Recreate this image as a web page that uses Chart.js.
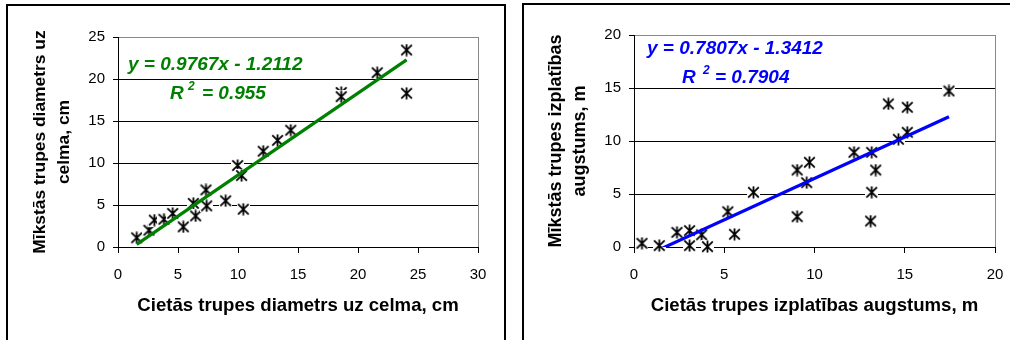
<!DOCTYPE html>
<html>
<head>
<meta charset="utf-8">
<script src="https://cdn.jsdelivr.net/npm/chart.js@4"></script>
<style>
  html, body { margin: 0; padding: 0; background: #fff; width: 1010px; height: 340px; overflow: hidden; position: relative; }
  .frame { position: absolute; box-sizing: border-box; border: 2px solid #000; background: #fff; }
  #f1 { left: 6px; top: 4px; width: 500px; height: 400px; }
  #f2 { left: 522px; top: 3px; width: 500px; height: 400px; }
  canvas { position: absolute; top: 0; }
  #c1 { left: 0; }
  #c2 { left: 515px; }
</style>
</head>
<body>
<div class="frame" id="f1"></div>
<div class="frame" id="f2"></div>
<canvas id="c1" width="510" height="340"></canvas>
<canvas id="c2" width="495" height="340"></canvas>
<script>
// Stump diameter: hard-rot trees (x) vs soft-rot trees (y), cm
const diamHard = [1.56, 2.58, 3.03, 3.83, 4.56, 5.44, 6.28, 6.47, 7.33, 7.39, 8.97, 9.97, 10.3, 10.44, 12.1, 13.3, 14.4, 18.6, 18.6, 21.6, 24.05, 24.05];
const diamSoft = [1.1, 2.0, 3.2, 3.3, 4.0, 2.4, 5.2, 3.7, 6.8, 4.9, 5.5, 9.7, 8.5, 4.5, 11.4, 12.7, 13.9, 18.4, 17.9, 20.75, 23.45, 18.3];
const diamFit = { slope: 0.9767, intercept: -1.2112, r2: '0.955' };
const diamXTicks = [0, 5, 10, 15, 20, 25, 30];
const diamYTicks = [0, 5, 10, 15, 20, 25];

// Rot spread height: hard-rot trees (x) vs soft-rot trees (y), m
const heightHard = [0.44, 1.4, 2.38, 3.08, 3.08, 3.75, 4.07, 5.2, 5.57, 6.62, 9.04, 9.04, 9.57, 9.72, 12.19, 13.17, 13.39, 13.17, 13.11, 14.09, 14.65, 15.14, 15.14, 17.45];
const heightSoft = [0.35, 0.13, 1.38, 1.55, 0.13, 1.15, 0.03, 3.33, 1.2, 5.16, 7.26, 2.86, 6.07, 7.99, 8.93, 8.93, 7.26, 5.16, 2.45, 13.5, 10.16, 13.18, 10.82, 14.72];
const heightFit = { slope: 0.7807, intercept: -1.3412, r2: '0.7904' };
const heightXTicks = [0, 5, 10, 15, 20];
const heightYTicks = [0, 5, 10, 15, 20];

const FONT = "'Liberation Sans', Arial, sans-serif";
Chart.defaults.font.family = FONT;
Chart.defaults.color = '#000';

// Asterisk marker on a white square
function starMarker() {
  const c = document.createElement('canvas');
  c.width = 13; c.height = 13;
  const g = c.getContext('2d');
  g.fillStyle = '#fff';
  g.fillRect(0, 0, 13, 13);
  g.strokeStyle = '#000';
  g.lineWidth = 1.8;
  g.beginPath();
  g.moveTo(1.2, 1.4); g.lineTo(11.8, 11.6);
  g.moveTo(11.8, 1.4); g.lineTo(1.2, 11.6);
  g.moveTo(6.5, 0.6); g.lineTo(6.5, 12.4);
  g.stroke();
  return c;
}
const marker = starMarker();

// Grey plot-area edge on the right side
const plotEdge = {
  id: 'plotEdge',
  beforeDatasetsDraw(chart) {
    const { ctx, chartArea: a } = chart;
    ctx.save();
    ctx.strokeStyle = '#888';
    ctx.lineWidth = 1;
    ctx.beginPath();
    const x = Math.round(a.right) + 0.5;
    ctx.moveTo(x, Math.round(a.top));
    ctx.lineTo(x, Math.round(a.bottom));
    ctx.stroke();
    ctx.restore();
  }
};

// Regression equation and R² text
const fitLabel = {
  id: 'fitLabel',
  afterDatasetsDraw(chart, args, o) {
    const ctx = chart.ctx;
    ctx.save();
    ctx.fillStyle = o.color;
    ctx.textBaseline = 'middle';
    ctx.textAlign = 'left';
    ctx.font = 'italic bold 19px ' + FONT;
    ctx.fillText(o.eq, o.eqX, o.eqY);
    ctx.fillText('R', o.rX, o.rY);
    ctx.fillText('= ' + o.r2, o.rX + o.eqOff, o.rY);
    ctx.font = 'italic bold 12px ' + FONT;
    ctx.fillText('2', o.rX + o.supOff, o.rY - 7);
    ctx.restore();
  }
};

function fitText(fit) {
  const sign = fit.intercept < 0 ? ' - ' : ' + ';
  return 'y = ' + fit.slope.toFixed(4) + 'x' + sign + Math.abs(fit.intercept).toFixed(4);
}

function makeChart(id, c) {
  const pts = c.xs.map((x, i) => ({ x: x, y: c.ys[i] }));
  const x0 = Math.min(...c.xs), x1 = Math.max(...c.xs);
  const line = [x0, x1].map(x => ({ x: x, y: c.fit.slope * x + c.fit.intercept }));
  const xt = c.xTicks, yt = c.yTicks;
  const yMax = yt[yt.length - 1];
  return new Chart(document.getElementById(id), {
    type: 'scatter',
    data: {
      datasets: [
        { type: 'line', data: line, borderColor: c.color, borderWidth: 3.2, pointRadius: 0, fill: false, clip: 0, order: 0 },
        { data: pts, pointStyle: marker, pointRadius: 6.5, clip: false, order: 1 }
      ]
    },
    options: {
      responsive: false,
      animation: false,
      events: [],
      layout: { padding: { left: 0, top: c.top, right: c.right, bottom: 0 } },
      plugins: {
        legend: { display: false },
        tooltip: { enabled: false },
        fitLabel: Object.assign({ color: c.color, eq: fitText(c.fit), r2: c.fit.r2 }, c.label)
      },
      scales: {
        x: {
          type: 'linear',
          min: xt[0], max: xt[xt.length - 1],
          ticks: { stepSize: xt[1] - xt[0], padding: 13, font: { size: 15 }, color: '#000', maxRotation: 0, autoSkip: false },
          grid: { display: true, drawOnChartArea: false, drawTicks: true, tickLength: 6, tickColor: '#000' },
          border: { color: '#000', width: 1 },
          title: { display: true, text: c.xTitle, color: '#000', font: { size: 18.6, weight: 'bold' }, padding: { top: 0, bottom: 23.2 } },
          afterFit: s => { s.height = c.xh; s.paddingLeft = 0; s.paddingRight = 0; }
        },
        y: {
          type: 'linear',
          min: yt[0], max: yMax,
          ticks: { stepSize: yt[1] - yt[0], padding: 8, font: { size: 15 }, color: '#000', autoSkip: false },
          grid: { color: g => (g.tick && g.tick.value === yMax) ? '#888' : '#000', tickColor: '#000', tickLength: 5, lineWidth: 1 },
          border: { color: '#000', width: 1 },
          title: { display: true, text: c.yTitle, color: '#000', font: { size: c.yTitleSize, weight: 'bold', lineHeight: '24px' }, padding: { top: c.yTitlePad, bottom: 0 } },
          afterFit: s => { s.width = c.yw; s.paddingTop = 0; s.paddingBottom = 0; }
        }
      }
    },
    plugins: [plotEdge, fitLabel]
  });
}

makeChart('c1', {
  xs: diamHard, ys: diamSoft, fit: diamFit, color: '#008000',
  xTicks: diamXTicks, yTicks: diamYTicks,
  top: 37, right: 32, xh: 93, yw: 118, yTitlePad: 28.4, yTitleSize: 17.4,
  xTitle: 'Cietās trupes diametrs uz celma, cm',
  yTitle: ['Mīkstās trupes diametrs uz', 'celma, cm'],
  label: { eqX: 128, eqY: 65, rX: 170, rY: 94, supOff: 18, eqOff: 32 }
});

makeChart('c2', {
  xs: heightHard, ys: heightSoft, fit: heightFit, color: '#0000ff',
  xTicks: heightXTicks, yTicks: heightYTicks,
  top: 35, right: 15, xh: 93, yw: 119, yTitlePad: 29, yTitleSize: 18,
  xTitle: 'Cietās trupes izplatības augstums, m',
  yTitle: ['Mīkstās trupes izplatības', 'augstums, m'],
  label: { eqX: 132, eqY: 49, rX: 167, rY: 78, supOff: 21, eqOff: 33 }
});
</script>
</body>
</html>
